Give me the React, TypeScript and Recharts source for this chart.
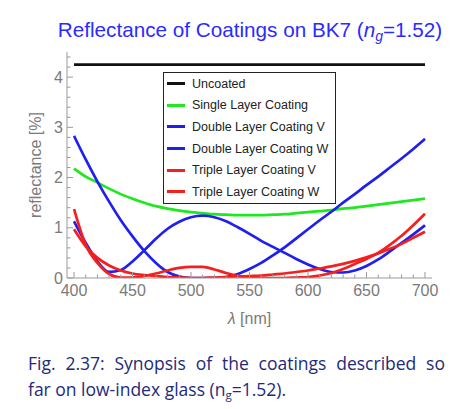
import React from 'react';
import { LineChart, Line, XAxis, YAxis, Legend } from 'recharts';

const wavelengths = [400, 410, 420, 430, 440, 450, 460, 470, 480, 490, 500, 510, 520, 530, 540, 550, 560, 570, 580, 590, 600, 610, 620, 630, 640, 650, 660, 670, 680, 690, 700];
const uncoated = [4.25, 4.25, 4.25, 4.25, 4.25, 4.25, 4.25, 4.25, 4.25, 4.25, 4.25, 4.25, 4.25, 4.25, 4.25, 4.25, 4.25, 4.25, 4.25, 4.25, 4.25, 4.25, 4.25, 4.25, 4.25, 4.25, 4.25, 4.25, 4.25, 4.25, 4.25];
const singleLayer = [2.18, 2.02, 1.9, 1.78, 1.67, 1.58, 1.5, 1.43, 1.38, 1.34, 1.31, 1.29, 1.27, 1.26, 1.25, 1.25, 1.25, 1.26, 1.27, 1.29, 1.31, 1.33, 1.35, 1.38, 1.4, 1.43, 1.46, 1.49, 1.52, 1.55, 1.58];
const doubleV = [2.83, 2.36, 1.92, 1.52, 1.15, 0.83, 0.54, 0.3, 0.12, 0.03, 0.0, 0.0, 0.0, 0.02, 0.08, 0.18, 0.3, 0.45, 0.61, 0.79, 0.97, 1.15, 1.32, 1.5, 1.67, 1.85, 2.02, 2.2, 2.38, 2.57, 2.77];
const doubleW = [1.13, 0.7, 0.33, 0.12, 0.16, 0.33, 0.55, 0.78, 0.98, 1.12, 1.21, 1.24, 1.21, 1.13, 1.01, 0.88, 0.74, 0.62, 0.5, 0.38, 0.27, 0.18, 0.12, 0.11, 0.15, 0.24, 0.37, 0.53, 0.7, 0.87, 1.05];
const tripleV = [0.97, 0.63, 0.4, 0.25, 0.15, 0.09, 0.06, 0.04, 0.02, 0.01, 0.0, 0.0, 0.01, 0.02, 0.03, 0.04, 0.05, 0.07, 0.09, 0.12, 0.15, 0.19, 0.23, 0.28, 0.34, 0.41, 0.49, 0.58, 0.68, 0.8, 0.92];
const tripleW = [1.37, 0.66, 0.3, 0.08, 0.01, 0.01, 0.04, 0.09, 0.15, 0.2, 0.22, 0.22, 0.17, 0.1, 0.04, 0.01, 0.0, 0.0, 0.0, 0.01, 0.02, 0.05, 0.1, 0.18, 0.28, 0.38, 0.5, 0.66, 0.84, 1.05, 1.28];

const xMajorTicks = [400, 450, 500, 550, 600, 650, 700];
const yMajorTicks = [0, 1, 2, 3, 4];

const seriesKeys = ['uncoated', 'single', 'doubleV', 'doubleW', 'tripleV', 'tripleW'];
const seriesNames = ['Uncoated', 'Single Layer Coating', 'Double Layer Coating V', 'Double Layer Coating W', 'Triple Layer Coating V', 'Triple Layer Coating W'];
const seriesColors = ['#111111', '#1ee81e', '#1f1ff0', '#1f1ff0', '#f41f1f', '#f41f1f'];

const data = wavelengths.map((w, i) => ({
  lambda: w,
  uncoated: uncoated[i],
  single: singleLayer[i],
  doubleV: doubleV[i],
  doubleW: doubleW[i],
  tripleV: tripleV[i],
  tripleW: tripleW[i],
}));

const xTicks: number[] = [];
for (let v = xMajorTicks[0]; v <= xMajorTicks[xMajorTicks.length - 1]; v += 10) xTicks.push(v);
const yTicks: number[] = [];
for (let k = 0; k <= 22; k++) yTicks.push(Math.round(k * 2) / 10);

const FRAME = '#9a9a9a';
const LABEL = '#7a7a7a';
const FONT = '"Liberation Sans", Arial, sans-serif';

const isMajorX = (v: number) => xMajorTicks.indexOf(v) >= 0;
const isMajorY = (v: number) => yMajorTicks.indexOf(v) >= 0;

const makeXTick = (side: 'bottom' | 'top') => (props: any) => {
  const { x, y, payload } = props;
  const v = payload.value;
  const major = isMajorX(v);
  const len = major ? 6 : 3.5;
  const dir = side === 'bottom' ? -1 : 1;
  return (
    <g>
      <line x1={x} x2={x} y1={y} y2={y + dir * len} stroke={FRAME} strokeWidth={1} />
      {side === 'bottom' && major ? (
        <text x={x} y={y + 18} textAnchor="middle" fill={LABEL} fontSize={16} fontFamily={FONT}>
          {v}
        </text>
      ) : null}
    </g>
  );
};

const makeYTick = (side: 'left' | 'right') => (props: any) => {
  const { x, y, payload } = props;
  const v = payload.value;
  const major = isMajorY(v);
  const len = major ? 6 : 3.5;
  const dir = side === 'left' ? 1 : -1;
  return (
    <g>
      <line x1={x} x2={x + dir * len} y1={y} y2={y} stroke={FRAME} strokeWidth={1} />
      {side === 'left' && major ? (
        <text x={x - 4} y={y + 5.5} textAnchor="end" fill={LABEL} fontSize={16} fontFamily={FONT}>
          {v}
        </text>
      ) : null}
    </g>
  );
};

const renderLegend = () => (
  <div
    style={{
      border: '1px solid #222',
      background: '#fff',
      width: 173,
      boxSizing: 'border-box',
      fontFamily: FONT,
      fontSize: 12.5,
      color: '#222',
    }}
  >
    {seriesNames.map((name, i) => (
      <div key={name} style={{ display: 'flex', alignItems: 'center', height: 21.6 }}>
        <span style={{ display: 'inline-block', width: 18, height: 3, background: seriesColors[i], marginLeft: 3, marginRight: 7 }} />
        <span style={{ whiteSpace: 'nowrap' }}>{name}</span>
      </div>
    ))}
  </div>
);

const captionStyle: React.CSSProperties = {
  position: 'absolute',
  left: 28,
  width: 417,
  fontFamily: '"Open Sans", "Noto Sans", sans-serif',
  fontSize: 17.5,
  lineHeight: '26px',
  color: '#1e2a7a',
  whiteSpace: 'nowrap',
};

export default function App() {
  return (
    <div style={{ position: 'absolute', left: 0, top: 0, width: 471, height: 409, background: '#fff', overflow: 'hidden' }}>
      <div
        style={{
          position: 'absolute',
          left: 0,
          width: 500,
          top: 18,
          textAlign: 'center',
          fontFamily: FONT,
          fontSize: 20.7,
          lineHeight: '24px',
          color: '#2b2bff',
          whiteSpace: 'nowrap',
        }}
      >
        Reflectance of Coatings on BK7 (<i>n</i>
        <sub style={{ fontSize: 14, fontStyle: 'italic', verticalAlign: '-4px' }}>g</sub>=1.52)
      </div>
      <div style={{ position: 'absolute', left: 0, top: 0 }}>
        <LineChart width={471} height={330} data={data} margin={{ top: 52, right: 39, bottom: 22, left: 7 }}>
          <XAxis
            dataKey="lambda"
            type="number"
            domain={[394, 706]}
            ticks={xTicks}
            interval={0}
            tick={makeXTick('bottom')}
            tickLine={false}
            tickSize={0}
            tickMargin={0}
            height={30}
            stroke={FRAME}
            allowDataOverflow
            label={{
              content: (p: any) => {
                const vb = p.viewBox || { x: 67, y: 278, width: 365, height: 30 };
                return (
                  <text x={vb.x + vb.width / 2} y={vb.y + 46} textAnchor="middle" fill={LABEL} fontSize={16} fontFamily={FONT}>
                    <tspan fontStyle="italic">λ</tspan> [nm]
                  </text>
                );
              },
            }}
          />
          <XAxis
            xAxisId="top"
            orientation="top"
            type="number"
            domain={[394, 706]}
            ticks={xTicks}
            interval={0}
            tick={makeXTick('top')}
            tickLine={false}
            tickSize={0}
            tickMargin={0}
            height={0}
            stroke={FRAME}
            allowDataOverflow
          />
          <YAxis
            type="number"
            domain={[0, 4.5]}
            ticks={yTicks}
            interval={0}
            tick={makeYTick('left')}
            tickLine={false}
            tickSize={0}
            tickMargin={0}
            width={60}
            stroke={FRAME}
            allowDataOverflow
            label={{
              content: (p: any) => {
                const vb = p.viewBox || { x: 7, y: 52, width: 60, height: 226 };
                const cx = vb.x + 28;
                const cy = vb.y + vb.height / 2;
                return (
                  <text x={cx} y={cy} transform={`rotate(-90, ${cx}, ${cy})`} textAnchor="middle" dominantBaseline="central" fill={LABEL} fontSize={16} fontFamily={FONT}>
                    reflectance [%]
                  </text>
                );
              },
            }}
          />
          <YAxis
            yAxisId="right"
            orientation="right"
            type="number"
            domain={[0, 4.5]}
            ticks={yTicks}
            interval={0}
            tick={makeYTick('right')}
            tickLine={false}
            tickSize={0}
            tickMargin={0}
            width={0}
            stroke={FRAME}
            allowDataOverflow
          />
          <Legend
            layout="vertical"
            align="center"
            verticalAlign="middle"
            content={renderLegend}
            wrapperStyle={{ position: 'absolute', left: 163, top: 72, width: 173 }}
          />
          {seriesKeys.map((k, i) => (
            <Line
              key={k}
              dataKey={k}
              name={seriesNames[i]}
              type="monotone"
              stroke={seriesColors[i]}
              strokeWidth={2.7}
              dot={false}
              isAnimationActive={false}
            />
          ))}
        </LineChart>
      </div>
      <div style={{ ...captionStyle, top: 350, textAlign: 'justify', textAlignLast: 'justify' as any }}>
        Fig. 2.37: Synopsis of the coatings described so
      </div>
      <div style={{ ...captionStyle, top: 376 }}>
        far on low-index glass (n
        <sub style={{ fontSize: 11.5, verticalAlign: '-3px' }}>g</sub>=1.52).
      </div>
    </div>
  );
}
